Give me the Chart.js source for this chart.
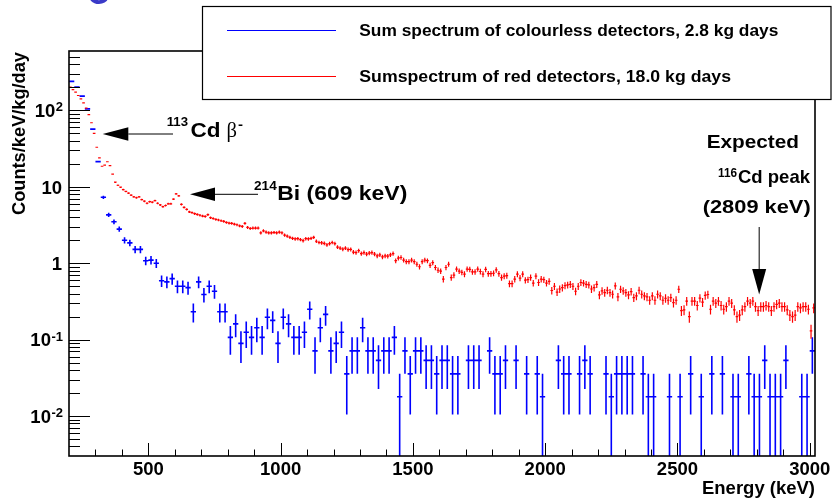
<!DOCTYPE html>
<html>
<head>
<meta charset="utf-8">
<script src="https://cdn.jsdelivr.net/npm/chart.js@4.4.0/dist/chart.umd.min.js"></script>
<style>
  html, body { margin: 0; padding: 0; background: #fff; }
  #wrap { width: 832px; height: 498px; }
</style>
</head>
<body>
<div id="wrap"><canvas id="spectrum" width="832" height="498"></canvas></div>
<script>
// red detectors: 10 keV bins starting at 200 keV, counts/keV/kg/day
const redStart = 200;
const redBinWidth = 10;
const redExposure = 18.0;
const redValues = [
  202, 187, 174, 157, 142, 126, 107, 88, 69, 50,
  33, 24, 18.6, 19.2, 21.3, 19, 14.7, 11.5, 10.5, 9.9,
  9.2, 8.7, 8.3, 7.8, 7.4, 7.2, 7.4, 6.8, 6.5, 6.1,
  6.4, 6.3, 6.6, 6.1, 5.8, 5.5, 5.7, 6.0, 6.0, 6.9,
  8.1, 7.6, 5.9, 5.4, 5.07, 4.7, 4.6, 4.45, 4.35, 4.25,
  4.15, 4.1, 4.32, 3.95, 3.85, 3.75, 3.68, 3.60, 3.53, 3.42,
  3.36, 3.32, 3.26, 3.19, 3.09, 3.03, 3.32, 2.94, 2.85, 2.89,
  2.89, 2.89, 2.50, 2.66, 2.56, 2.50, 2.50, 2.53, 2.50, 2.56,
  2.50, 2.34, 2.27, 2.18, 2.12, 2.08, 2.10, 2.04, 1.98, 2.10,
  2.08, 2.12, 2.18, 1.94, 1.87, 1.85, 1.82, 1.74, 1.81, 1.87,
  1.81, 1.63, 1.58, 1.53, 1.58, 1.51, 1.52, 1.40, 1.38, 1.46,
  1.34, 1.38, 1.32, 1.36, 1.38, 1.32, 1.25, 1.29, 1.21, 1.25,
  1.24, 1.29, 1.34, 1.08, 1.17, 1.19, 1.10, 1.05, 1.05, 1.10,
  1.05, 0.97, 0.90, 1.05, 1.10, 1.08, 0.94, 1.02, 0.88, 0.81,
  0.79, 0.62, 0.88, 0.97, 0.65, 0.70, 0.84, 0.79, 0.76, 0.72,
  0.84, 0.83, 0.77, 0.77, 0.84, 0.78, 0.72, 0.83, 0.73, 0.73,
  0.74, 0.82, 0.73, 0.65, 0.68, 0.69, 0.54, 0.54, 0.62, 0.72,
  0.64, 0.72, 0.60, 0.61, 0.65, 0.55, 0.68, 0.56, 0.62, 0.61,
  0.55, 0.58, 0.44, 0.50, 0.42, 0.46, 0.48, 0.51, 0.52, 0.53,
  0.50, 0.43, 0.50, 0.56, 0.55, 0.53, 0.52, 0.46, 0.48, 0.53,
  0.385, 0.435, 0.413, 0.443, 0.413, 0.393, 0.505, 0.362, 0.457, 0.435,
  0.413, 0.385, 0.426, 0.355, 0.373, 0.443, 0.393, 0.373, 0.362, 0.328,
  0.373, 0.328, 0.393, 0.373, 0.328, 0.348, 0.328, 0.355, 0.305, 0.328,
  0.457, 0.24, 0.245, 0.32, 0.20, 0.32, 0.32, 0.28, 0.35, 0.31,
  0.38, 0.39, 0.25, 0.32, 0.30, 0.32, 0.28, 0.25, 0.27, 0.32,
  0.30, 0.245, 0.20, 0.21, 0.245, 0.27, 0.32, 0.30, 0.32, 0.27,
  0.24, 0.27, 0.27, 0.28, 0.27, 0.24, 0.27, 0.29, 0.30, 0.27,
  0.27, 0.245, 0.21, 0.20, 0.21, 0.27, 0.26, 0.27, 0.27, 0.25,
  0.13, 0.26
];

// colourless detectors: 20 keV bins starting at 200 keV (null = empty bin)
const blueStart = 200;
const blueBinWidth = 20;
const blueExposure = 2.8;
const blueValues = [
  240, 202, 154, 105, 57, 21.4, 7.3, 4.3, 3.5, 2.8,
  2.0, 1.85, 1.52, 1.52, 1.08, 1.10, 1.0, 0.59, 0.57, 0.63,
  0.50, 0.50, 0.48, 0.232, 0.57, 0.39, 0.50, 0.43, 0.232, 0.232,
  0.107, 0.161, 0.0893, 0.125, 0.107, 0.143, 0.107, 0.196, 0.179, 0.0893,
  0.196, 0.161, 0.107, 0.107, 0.125, 0.25, 0.0714, 0.143, 0.214, 0.0714,
  0.0893, 0.125, 0.0357, 0.0714, 0.0714, 0.143, 0.0714, 0.0714, 0.0536, 0.0714,
  0.0714, 0.107, 0.0179, 0.0714, 0.0357, 0.0714, 0.0714, 0.0536, 0.0536, 0.0357,
  0.0536, 0.0536, 0.0357, 0.0357, null, 0.0536, 0.0536, 0.0536, null, 0.0714,
  0.0357, 0.0357, 0.0536, null, 0.0536, null, 0.0357, null, 0.0357, 0.0179,
  null, null, 0.0536, 0.0357, 0.0357, null, 0.0357, 0.0536, 0.0357, null,
  null, 0.0357, 0.0179, 0.0357, 0.0357, 0.0357, 0.0357, null, 0.0357, 0.0179,
  0.0179, null, null, 0.0179, null, 0.0179, null, 0.0357, null, 0.0179,
  null, 0.0357, null, 0.0357, null, 0.0179, 0.0179, null, 0.0357, 0.0179,
  0.0179, 0.0536, 0.0179, 0.0179, 0.0179, 0.0536, null, null, 0.0179, 0.0179,
  0.0714
];

const xMajorTicks = [500, 1000, 1500, 2000, 2500, 3000];
const yMajorTicks = [0.01, 0.1, 1, 10, 100];
const yTickLabels = [['10', '-2'], ['10', '-1'], ['1', ''], ['10', ''], ['10', '2']];
const legendLabels = ['Sum spectrum of colourless detectors, 2.8 kg days',
                      'Sumspectrum of red detectors, 18.0 kg days'];

const FONT = '"Liberation Sans", Arial, Helvetica, sans-serif';

function binPoints(values, start, width) {
  return values.map((v, i) => ({ x: start + width * (i + 0.5), y: v }))
               .filter(p => p.y !== null);
}

// draw text with optional horizontal squeeze to a given width
function drawText(ctx, s, x, y, o) {
  ctx.save();
  ctx.font = (o.bold === false ? '' : 'bold ') + o.size + 'px ' + (o.family || FONT);
  ctx.fillStyle = o.color || '#000';
  ctx.textBaseline = 'alphabetic';
  const w = ctx.measureText(s).width;
  const sx = o.width ? o.width / w : 1;
  let left = x;
  if (o.align === 'center') left = x - w * sx / 2;
  else if (o.align === 'right') left = x - w * sx;
  ctx.translate(left, y);
  ctx.scale(sx, 1);
  ctx.fillText(s, 0, 0);
  ctx.restore();
  return w * sx;
}

function arrow(ctx, x0, y0, x1, y1, headLen, headHalf) {
  const ang = Math.atan2(y1 - y0, x1 - x0);
  const bx = x1 - Math.cos(ang) * headLen, by = y1 - Math.sin(ang) * headLen;
  ctx.save();
  ctx.strokeStyle = '#000';
  ctx.fillStyle = '#000';
  ctx.lineWidth = 1;
  ctx.beginPath();
  ctx.moveTo(x0, y0);
  ctx.lineTo(bx, by);
  ctx.stroke();
  ctx.beginPath();
  ctx.moveTo(x1, y1);
  ctx.lineTo(bx - Math.sin(ang) * headHalf, by + Math.cos(ang) * headHalf);
  ctx.lineTo(bx + Math.sin(ang) * headHalf, by - Math.cos(ang) * headHalf);
  ctx.closePath();
  ctx.fill();
  ctx.restore();
}

// histogram points with bin-width and poisson error bars
const errorBars = {
  id: 'errorBars',
  afterDatasetsDraw(chart) {
    const { ctx, chartArea: a, scales: { x, y } } = chart;
    ctx.save();
    ctx.beginPath();
    ctx.rect(a.left, a.top, a.right - a.left, a.bottom - a.top);
    ctx.clip();
    chart.data.datasets.forEach(ds => {
      const unit = 1 / (ds.binWidth * ds.exposure);
      ctx.strokeStyle = ds.borderColor;
      ctx.lineWidth = ds.barLineWidth;
      ctx.beginPath();
      ds.data.forEach(p => {
        const err = Math.sqrt(p.y / unit) * unit;
        const px = x.getPixelForValue(p.x);
        const py = y.getPixelForValue(p.y);
        const x0 = x.getPixelForValue(p.x - ds.binWidth / 2);
        const x1 = x.getPixelForValue(p.x + ds.binWidth / 2);
        const lo = p.y - err;
        const yLo = lo > 0 ? y.getPixelForValue(lo) : a.bottom + 5;
        const yHi = y.getPixelForValue(p.y + err);
        ctx.moveTo(x0, py);
        ctx.lineTo(x1, py);
        ctx.moveTo(px, yLo);
        ctx.lineTo(px, yHi);
      });
      ctx.stroke();
    });
    ctx.restore();
  }
};

// ROOT style frame, inward ticks, labels, legend and annotations
const decorations = {
  id: 'decorations',
  afterDraw(chart) {
    const { ctx, chartArea: a, scales: { x, y } } = chart;
    ctx.save();

    // clipped piece of a title letter at the very top
    drawText(ctx, 'O', 87, 4, { size: 34, color: '#3a3ac8', width: 24 });

    // ticks
    ctx.strokeStyle = '#000';
    ctx.lineWidth = 1;
    ctx.beginPath();
    for (let e = 300; e <= 3000; e += 100) {
      const px = Math.round(x.getPixelForValue(e)) + 0.5;
      const len = xMajorTicks.includes(e) ? 13 : 6.5;
      ctx.moveTo(px, a.bottom);
      ctx.lineTo(px, a.bottom - len);
    }
    for (let d = 0.001; d < 1000; d *= 10) {
      for (let m = 1; m <= 9; m++) {
        const v = d * m;
        if (v <= y.min || v >= y.max) continue;
        const py = Math.round(y.getPixelForValue(v)) + 0.5;
        const len = m === 1 ? 21 : 11;
        ctx.moveTo(a.left, py);
        ctx.lineTo(a.left + len, py);
      }
    }
    ctx.stroke();

    // frame
    ctx.lineWidth = 1.6;
    ctx.strokeRect(a.left, a.top, a.right - a.left, a.bottom - a.top);

    // x tick labels
    xMajorTicks.forEach(v => {
      drawText(ctx, String(v), x.getPixelForValue(v), 475, { size: 18.5, align: 'center' });
    });
    // y tick labels with exponents
    yMajorTicks.forEach((v, i) => {
      const py = y.getPixelForValue(v);
      const [base, sup] = yTickLabels[i];
      if (sup) {
        ctx.font = 'bold 13px ' + FONT;
        const sw = ctx.measureText(sup).width;
        drawText(ctx, sup, 63 - sw, py + 1, { size: 13 });
        drawText(ctx, base, 63 - sw - 0.5, py + 6.7, { size: 18.5, align: 'right' });
      } else {
        drawText(ctx, base, 62, py + 6.7, { size: 18.5, align: 'right' });
      }
    });

    // axis titles
    drawText(ctx, 'Energy (keV)', a.right, 494, { size: 18, align: 'right', width: 113 });
    ctx.save();
    ctx.translate(25, a.top + 1);
    ctx.rotate(-Math.PI / 2);
    drawText(ctx, 'Counts/keV/kg/day', 0, 0, { size: 18, align: 'right', width: 163 });
    ctx.restore();

    // legend
    ctx.fillStyle = '#fff';
    ctx.fillRect(202.5, 6.5, 628.5, 93);
    ctx.lineWidth = 1.2;
    ctx.strokeStyle = '#000';
    ctx.strokeRect(202.5, 6.5, 628.5, 93);
    const ds = chart.data.datasets;
    [[ds[0], 30.5, 36, 419], [ds[1], 76.5, 81.7, 371.7]].forEach(([d, ly, ty, tw], i) => {
      ctx.strokeStyle = d.borderColor;
      ctx.lineWidth = 1;
      ctx.beginPath();
      ctx.moveTo(227, ly);
      ctx.lineTo(336, ly);
      ctx.stroke();
      drawText(ctx, legendLabels[i], 359.3, ty, { size: 16, width: tw });
    });

    // annotations
    drawText(ctx, '113', 166.7, 126, { size: 13, width: 21.3 });
    drawText(ctx, 'Cd', 190.5, 137.3, { size: 20, width: 30 });
    drawText(ctx, '\u03b2', 226.5, 137.3, { size: 20, bold: false, family: '"Liberation Serif", "DejaVu Serif", serif', width: 10.5 });
    drawText(ctx, '-', 238, 128.5, { size: 13, width: 5 });
    arrow(ctx, 173, 134, 102.7, 134, 25.6, 6.7);

    drawText(ctx, '214', 254, 190, { size: 13, width: 22.7 });
    drawText(ctx, 'Bi (609 keV)', 277.3, 200, { size: 20, width: 130 });
    arrow(ctx, 258, 194.3, 190, 194.3, 25, 6.7);

    drawText(ctx, 'Expected', 706.7, 147.7, { size: 19, width: 92.3 });
    drawText(ctx, '116', 718, 176.7, { size: 13, width: 19 });
    drawText(ctx, 'Cd peak', 738, 183.3, { size: 19, width: 72 });
    drawText(ctx, '(2809 keV)', 702.7, 213.3, { size: 19, width: 108 });
    const ax = x.getPixelForValue(2809);
    arrow(ctx, ax, 227, ax, 294.5, 25.5, 7);

    ctx.restore();
  }
};

new Chart(document.getElementById('spectrum').getContext('2d'), {
  type: 'scatter',
  data: {
    datasets: [
      {
        label: legendLabels[0],
        data: binPoints(blueValues, blueStart, blueBinWidth),
        borderColor: '#0000ff',
        backgroundColor: '#0000ff',
        pointRadius: 0,
        binWidth: blueBinWidth,
        exposure: blueExposure,
        barLineWidth: 1.6,
      },
      {
        label: legendLabels[1],
        data: binPoints(redValues, redStart, redBinWidth),
        borderColor: '#ff0000',
        backgroundColor: '#ff0000',
        pointRadius: 0,
        binWidth: redBinWidth,
        exposure: redExposure,
        barLineWidth: 1.2,
      },
    ],
  },
  options: {
    responsive: false,
    animation: false,
    devicePixelRatio: 1,
    layout: { padding: { left: 69, top: 51, right: 17, bottom: 42 } },
    scales: {
      x: { type: 'linear', min: 200, max: 3020, display: false },
      y: { type: 'logarithmic', min: 0.003, max: 600, display: false },
    },
    plugins: {
      legend: { display: false },
      tooltip: { enabled: false },
    },
  },
  plugins: [errorBars, decorations],
});
</script>
</body>
</html>
